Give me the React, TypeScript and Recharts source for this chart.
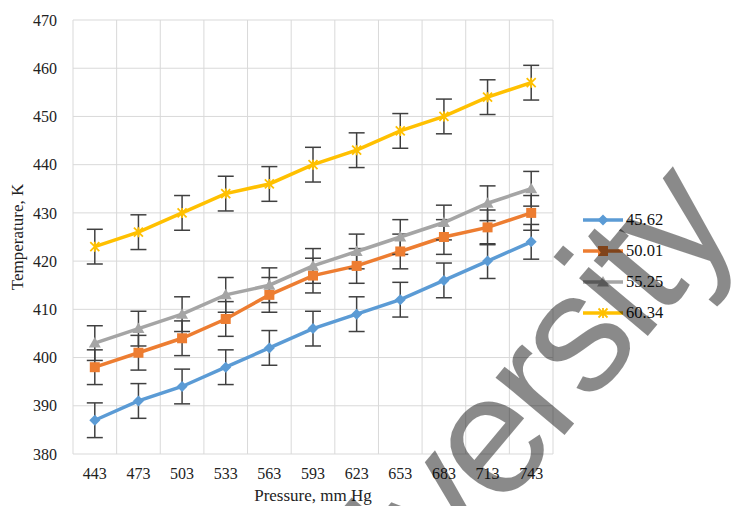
import { LineChart, Line, XAxis, YAxis, CartesianGrid, ErrorBar } from 'recharts'

// Pressure, mm Hg
const pressure = [443, 473, 503, 533, 563, 593, 623, 653, 683, 713, 743]

// Temperature, K for each series
const s4562 = [387, 391, 394, 398, 402, 406, 409, 412, 416, 420, 424]
const s5001 = [398, 401, 404, 408, 413, 417, 419, 422, 425, 427, 430]
const s5525 = [403, 406, 409, 413, 415, 419, 422, 425, 428, 432, 435]
const s6034 = [423, 426, 430, 434, 436, 440, 443, 447, 450, 454, 457]

// error bar half-width, K
const errK = [3.6, 3.6, 3.6, 3.6, 3.6, 3.6, 3.6, 3.6, 3.6, 3.6, 3.6]

const yTicks = [380, 390, 400, 410, 420, 430, 440, 450, 460, 470]

const series = [
  { key: 'a', name: '45.62', color: '#5B9BD5', shape: 'diamond', values: s4562 },
  { key: 'b', name: '50.01', color: '#ED7D31', shape: 'square', values: s5001 },
  { key: 'c', name: '55.25', color: '#A5A5A5', shape: 'triangle', values: s5525 },
  { key: 'd', name: '60.34', color: '#FFC000', shape: 'star', values: s6034 },
]

const data = pressure.map((p, i) => {
  const row: Record<string, number | string> = { p: String(p), err: errK[i] }
  series.forEach(s => { row[s.key] = s.values[i] })
  return row
})

const FONT = "'Liberation Serif', 'Times New Roman', serif"

const Marker = ({ cx, cy, shape, color }: { cx: number; cy: number; shape: string; color: string }) => {
  if (shape === 'diamond')
    return <path d={`M${cx},${cy - 5.5}L${cx + 5.5},${cy}L${cx},${cy + 5.5}L${cx - 5.5},${cy}Z`} fill={color} />
  if (shape === 'square')
    return <rect x={cx - 5} y={cy - 5} width={10} height={10} fill={color} />
  if (shape === 'triangle')
    return <path d={`M${cx},${cy - 6}L${cx + 6},${cy + 4.5}L${cx - 6},${cy + 4.5}Z`} fill={color} />
  return (
    <path
      d={`M${cx - 4.5},${cy - 4.5}L${cx + 4.5},${cy + 4.5}M${cx + 4.5},${cy - 4.5}L${cx - 4.5},${cy + 4.5}M${cx},${cy - 5}L${cx},${cy + 5}`}
      stroke={color}
      strokeWidth={1.8}
    />
  )
}

// legend sits to the right of the plot, like Excel's
const LegendBox = () => (
  <div style={{ position: 'absolute', left: 583, top: 204, fontFamily: FONT, fontSize: 16.5, color: '#111' }}>
    {series.map(s => (
      <div key={s.key} style={{ display: 'flex', alignItems: 'center', height: 31 }}>
        <svg width={42} height={14}>
          <line x1={0} y1={7} x2={40} y2={7} stroke={s.color} strokeWidth={3.5} />
          <Marker cx={20} cy={7} shape={s.shape} color={s.color} />
        </svg>
        <span style={{ marginLeft: 1 }}>{s.name}</span>
      </div>
    ))}
  </div>
)

export default function App() {
  return (
    <div style={{ position: 'absolute', left: 0, top: 0, width: 739, height: 506, background: '#fff', overflow: 'hidden' }}>
      <LineChart width={739} height={506} data={data} margin={{ top: 20, right: 186, bottom: 22, left: 0 }}>
        <CartesianGrid
          stroke="#d9d9d9"
          strokeWidth={1}
          verticalCoordinatesGenerator={({ offset }: any) =>
            pressure.concat([0]).map((_, i) => offset.left + (i * offset.width) / pressure.length)
          }
        />
        <XAxis
          dataKey="p"
          padding={{ left: 21.8, right: 21.8 }}
          axisLine={false}
          tickLine={false}
          tickSize={0}
          tickMargin={14}
          height={30}
          tick={{ fontFamily: FONT, fontSize: 16, fill: '#222' }}
          label={{ value: 'Pressure, mm Hg', position: 'insideBottom', offset: -17, fontFamily: FONT, fontSize: 17, fill: '#222' }}
        />
        <YAxis
          domain={[380, 470]}
          ticks={yTicks}
          width={73}
          axisLine={false}
          tickLine={false}
          tickSize={0}
          tickMargin={16}
          tick={{ fontFamily: FONT, fontSize: 16, fill: '#222' }}
          label={{ value: 'Temperature, K', angle: -90, position: 'insideLeft', offset: 17, fontFamily: FONT, fontSize: 17, fill: '#222', style: { textAnchor: 'middle' } }}
        />
        {series.map(s => (
          <Line
            key={s.key}
            dataKey={s.key}
            name={s.name}
            stroke={s.color}
            strokeWidth={3.5}
            isAnimationActive={false}
            dot={(props: any) => (
              <Marker key={`${s.key}-${props.index}`} cx={props.cx} cy={props.cy} shape={s.shape} color={s.color} />
            )}
            activeDot={false}
          >
            <ErrorBar dataKey="err" width={8} stroke="#404040" strokeWidth={1.5} />
          </Line>
        ))}
      </LineChart>
      <LegendBox />
      {/* watermark over the chart */}
      <svg width={739} height={506} style={{ position: 'absolute', left: 0, top: 0, pointerEvents: 'none' }}>
        <text
          x={0}
          y={0}
          transform="translate(297,754) rotate(-50)"
          fontFamily="'Liberation Sans', Arial, sans-serif"
          fontSize={170}
          letterSpacing={-6}
          fill="#000"
          fillOpacity={0.46}
        >
          University
        </text>
      </svg>
    </div>
  )
}
